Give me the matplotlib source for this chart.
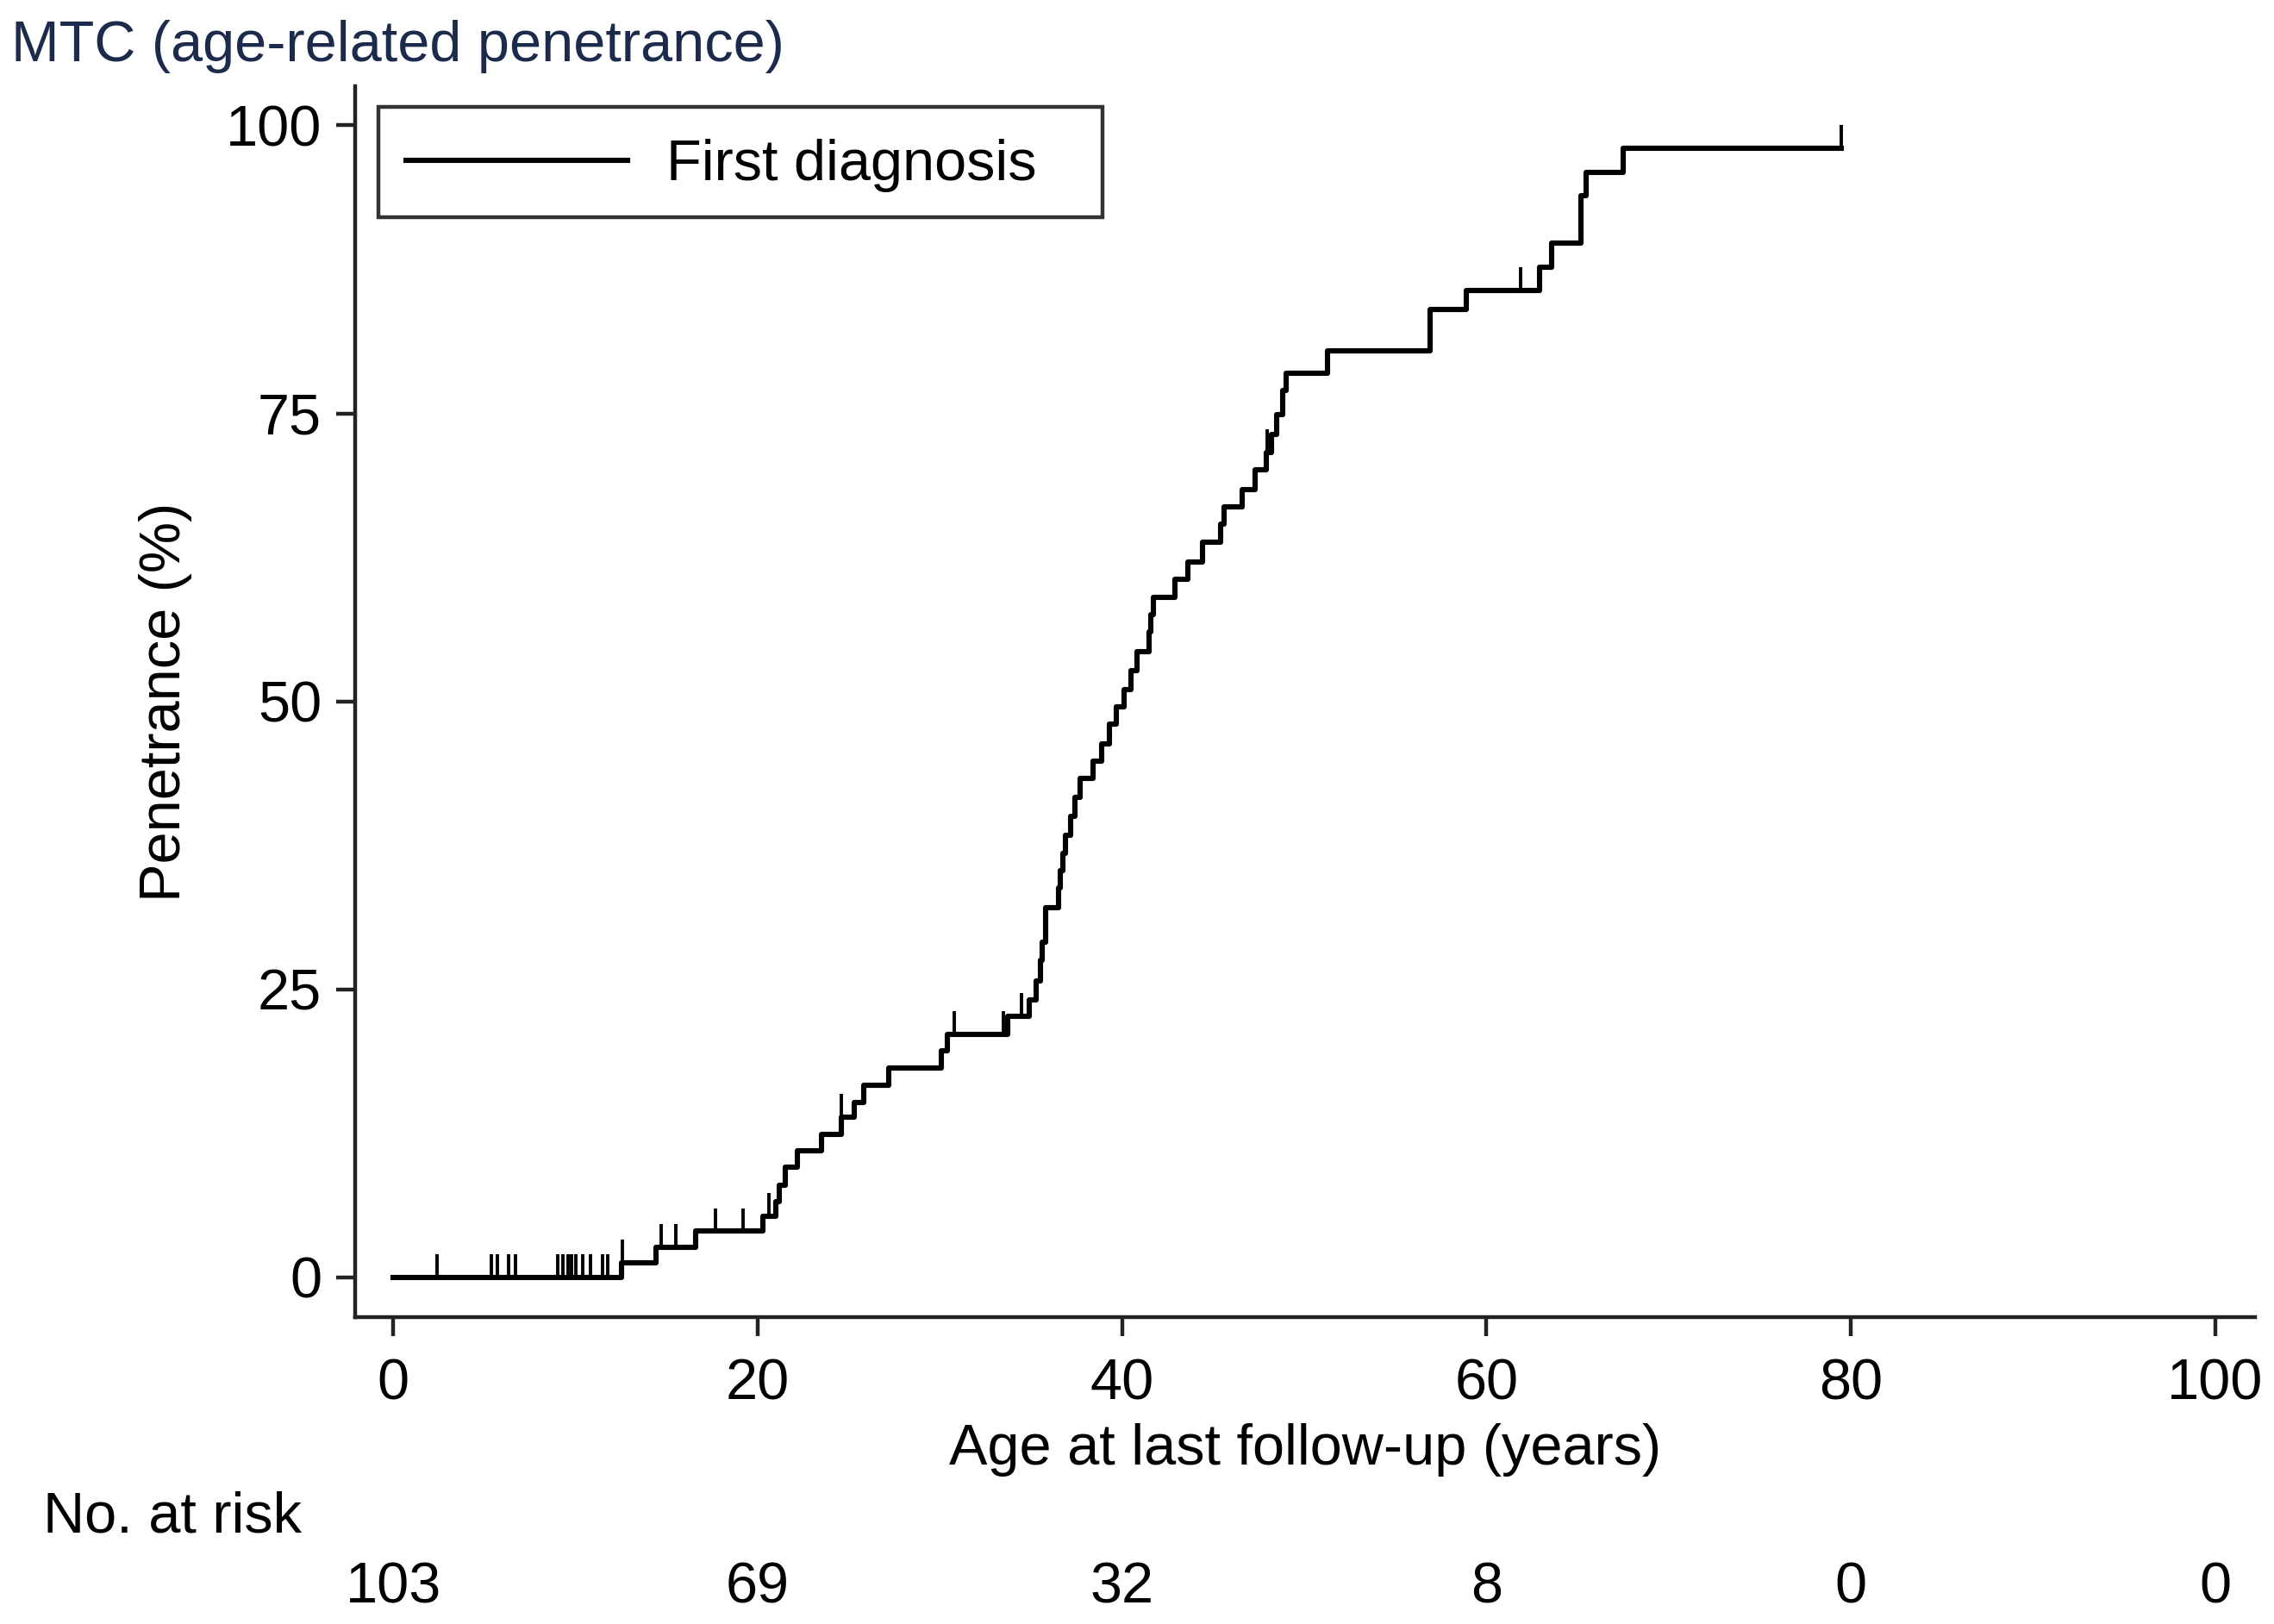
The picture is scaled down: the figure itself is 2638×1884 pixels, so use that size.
import numpy as np
import matplotlib
matplotlib.use("Agg")
import matplotlib.pyplot as plt
import matplotlib.transforms as mtransforms
from matplotlib.patches import Rectangle

plt.rcParams['font.family'] = ['Liberation Sans', 'DejaVu Sans']

# step times (years) and penetrance after each step (%)
event_age = [0, 12.5, 14.4, 16.6, 20.3, 21.0, 21.2, 21.5, 22.2, 23.5, 24.6, 25.3,
             25.8, 27.2, 30.1, 30.4, 33.7, 34.9, 35.3, 35.5, 35.6, 35.8, 36.5,
             36.6, 36.75, 36.9, 37.2, 37.4, 37.7, 38.4, 38.9, 39.3, 39.7, 40.1,
             40.5, 40.8, 41.5, 41.6, 41.7, 42.9, 43.6, 44.4, 45.4, 45.6, 46.6,
             47.3, 47.9, 48.2, 48.5, 48.8, 49.0, 51.3, 56.9, 58.9, 62.9, 63.6,
             65.2, 65.5, 67.5]
penetrance = [0, 1.3, 2.6, 4.0, 5.3, 6.6, 8.0, 9.6, 11.0, 12.4, 13.9, 15.2,
              16.7, 18.2, 19.7, 21.1, 22.7, 24.1, 25.7, 27.5, 29.1, 32.1, 33.8,
              35.3, 36.8, 38.4, 40.0, 41.7, 43.3, 44.8, 46.3, 48.0, 49.5, 51.0,
              52.7, 54.3, 56.0, 57.5, 59.0, 60.6, 62.1, 63.8, 65.4, 66.9, 68.4,
              70.1, 71.6, 73.2, 74.9, 77.0, 78.5, 80.4, 84.0, 85.7, 87.7, 89.8,
              93.9, 95.9, 98.0]
last_age = 79.5

# censored observations (years)
censored = [2.4, 5.4, 5.7, 6.3, 6.7, 9.0, 9.3, 9.6, 9.8, 10.0, 10.4, 10.8,
            11.5, 11.75, 12.55, 14.7, 15.5, 17.7, 19.2, 20.6, 24.6, 30.8, 33.5,
            34.5, 47.95, 61.9, 79.5]

risk_ages = [0, 20, 40, 60, 80, 100]
at_risk = [103, 69, 32, 8, 0, 0]

fs = 24

fig = plt.figure(figsize=(2638 / 200, 1884 / 200), dpi=200)
ax = fig.add_axes([412 / 2638, 1 - 1528 / 1884, (2616 - 412) / 2638, (1528 - 100) / 1884])

xs = event_age + [last_age]
ys = penetrance + [penetrance[-1]]
ax.step(xs, ys, where='post', color='black', lw=2.2, label='First diagnosis')

# censor marks
idx = np.searchsorted(event_age, censored, side='right') - 1
lev = np.array(penetrance)[idx]
ax.vlines(censored, lev, lev + 2.0, color='black', lw=1.4)

ax.set_xlim(-2.1, 102.2)
ax.set_ylim(-3.45, 103.4)
ax.set_xticks(risk_ages)
ax.set_yticks([0, 25, 50, 75, 100])
for s in ['top', 'right']:
    ax.spines[s].set_visible(False)
for s in ['left', 'bottom']:
    ax.spines[s].set_linewidth(1.6)
    ax.spines[s].set_color('#222222')
ax.tick_params(length=8, width=1.6, color='#222222', labelsize=fs)
ax.tick_params(axis='x', pad=9)
ax.tick_params(axis='y', pad=6)

ax.set_ylabel('Penetrance (%)', fontsize=fs, labelpad=14)
ax.set_xlabel('Age at last follow-up (years)', fontsize=fs, labelpad=5)

# legend (box drawn separately so the padding matches)
ax.legend(loc='center left', bbox_to_anchor=(0.0268, 0.9356), fontsize=fs,
          frameon=False, handlelength=3.85, handletextpad=0.68,
          borderpad=0, borderaxespad=0)
ax.add_patch(Rectangle((0.01225, 0.8936), 0.3934 - 0.01225, 0.9832 - 0.8936,
                       transform=ax.transAxes, fill=False, ec='#333333', lw=1.6))

fig.text(13 / 2638, 1 - 54 / 1884, 'MTC (age-related penetrance)', fontsize=24,
         color='#1c2a4c', ha='left', va='center')

fig.text(50 / 2638, 1 - 1761 / 1884, 'No. at risk', fontsize=fs, ha='left', va='center')
trans = mtransforms.blended_transform_factory(ax.transData, fig.transFigure)
for a, n in zip(risk_ages, at_risk):
    ax.text(a, 1 - 1842 / 1884, str(n), transform=trans, fontsize=fs,
            ha='center', va='center')

fig.savefig('out.png', dpi=200, facecolor='white')
